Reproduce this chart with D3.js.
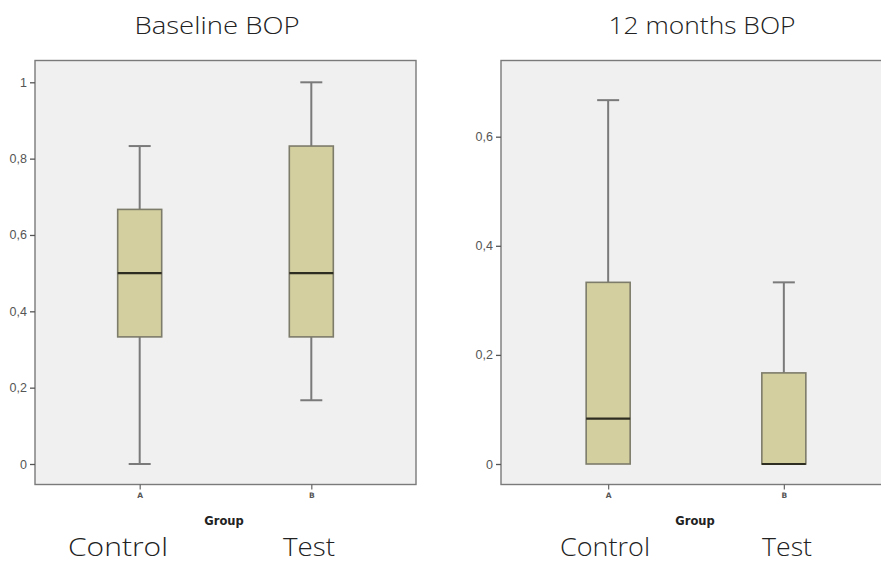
<!DOCTYPE html>
<html><head><meta charset="utf-8">
<script src="https://cdn.jsdelivr.net/npm/d3@7"></script>
<style>
body{margin:0;background:#fff;}
svg{display:block;}
</style></head>
<body><svg id="c" width="881" height="562"></svg>
<script>
const categories = ["A", "B"];
const groupNames = ["Control", "Test"];
const panelTitles = ["Baseline BOP", "12 months BOP"];
// [min, q1, median, q3, max] per category
const baselineStats = [[0, 0.333, 0.5, 0.667, 0.833], [0.167, 0.333, 0.5, 0.833, 1]];
const monthsStats = [[0, 0, 0.083, 0.333, 0.667], [0, 0, 0, 0.167, 0.333]];
const baselineTicks = [0, 0.2, 0.4, 0.6, 0.8, 1];
const monthsTicks = [0, 0.2, 0.4, 0.6];
const xAxisTitle = "Group";

const svg = d3.select("#c");
const fmt = d => d === 0 ? "0" : (d === 1 ? "1" : String(d).replace(".", ","));
const lightFont = "Open Sans, Liberation Sans, sans-serif";

const panels = [
  {title: panelTitles[0], stats: baselineStats, ticks: baselineTicks, topV: 1,
   x0: 35, x1: 416, y0: 60.5, y1: 484.5, zeroY: 464, topY: 82.3, pad: 0.61,
   titleX: 217, titleW: 165, groupX: 224, nameX: [118, 309], nameW: [100, 52]},
  {title: panelTitles[1], stats: monthsStats, ticks: monthsTicks, topV: 0.6,
   x0: 501, x1: 891, y0: 60.5, y1: 484.5, zeroY: 464, topY: 136.7, pad: 0.61,
   titleX: 702, titleW: 187, groupX: 695, nameX: [605, 787], nameW: [90, 50]}
];

panels.forEach((p, pi) => {
  const g = svg.append("g");
  const y = d3.scaleLinear().domain([0, p.topV]).range([p.zeroY, p.topY]);
  const x = d3.scalePoint().domain(categories).range([p.x0, p.x1]).padding(p.pad);

  g.append("rect").attr("x", p.x0).attr("y", p.y0).attr("width", p.x1 - p.x0).attr("height", p.y1 - p.y0)
    .attr("fill", "#f0f0f0").attr("stroke", "#7a7a7a").attr("stroke-width", 1.4);

  const ya = g.append("g").attr("transform", `translate(${p.x0},0)`)
    .call(d3.axisLeft(y).tickValues(p.ticks).tickFormat(fmt).tickSize(5).tickPadding(3));
  ya.select(".domain").remove();
  ya.selectAll(".tick line").attr("stroke", "#555").attr("stroke-width", 1.3);
  ya.selectAll(".tick text").attr("fill", "#555").style("font-family", "Liberation Sans, Arial, sans-serif").style("font-size", "12.5px");

  const xa = g.append("g").attr("transform", `translate(0,${p.y1})`)
    .call(d3.axisBottom(x).tickSize(5).tickPadding(3));
  xa.select(".domain").remove();
  xa.selectAll(".tick line").attr("stroke", "#666").attr("stroke-width", 1.2);
  xa.selectAll(".tick text").attr("fill", "#555").style("font-family", "DejaVu Sans, sans-serif")
    .style("font-size", "7.5px").style("font-weight", "bold");

  g.append("text").attr("x", p.groupX).attr("y", 525)
    .attr("text-anchor", "middle").attr("fill", "#222")
    .style("font-family", "DejaVu Sans, sans-serif").style("font-size", "11.5px").style("font-weight", "bold")
    .text(xAxisTitle);

  g.append("text").attr("x", p.titleX).attr("y", 34).attr("text-anchor", "middle")
    .attr("fill", "#222").style("font-family", lightFont)
    .style("font-size", "23px").style("font-weight", "300")
    .attr("textLength", p.titleW).attr("lengthAdjust", "spacingAndGlyphs").text(p.title);

  groupNames.forEach((n, i) => {
    g.append("text").attr("x", p.nameX[i]).attr("y", 556).attr("text-anchor", "middle")
      .attr("fill", "#222").style("font-family", lightFont)
      .style("font-size", "25px").style("font-weight", "300")
      .attr("textLength", p.nameW[i]).attr("lengthAdjust", "spacingAndGlyphs").text(n);
  });

  const bw = 44;
  p.stats.forEach((s, i) => {
    const cx = x(categories[i]);
    const [mn, q1, md, q3, mx] = s;
    if (mx > q3) {
      g.append("line").attr("x1", cx).attr("x2", cx).attr("y1", y(mx)).attr("y2", y(q3))
        .attr("stroke", "#7a7a7a").attr("stroke-width", 2);
      g.append("line").attr("x1", cx - bw / 4).attr("x2", cx + bw / 4).attr("y1", y(mx)).attr("y2", y(mx))
        .attr("stroke", "#7a7a7a").attr("stroke-width", 2);
    }
    if (mn < q1) {
      g.append("line").attr("x1", cx).attr("x2", cx).attr("y1", y(q1)).attr("y2", y(mn))
        .attr("stroke", "#7a7a7a").attr("stroke-width", 2);
      g.append("line").attr("x1", cx - bw / 4).attr("x2", cx + bw / 4).attr("y1", y(mn)).attr("y2", y(mn))
        .attr("stroke", "#7a7a7a").attr("stroke-width", 2);
    }
    g.append("rect").attr("x", cx - bw / 2).attr("y", y(q3)).attr("width", bw).attr("height", y(q1) - y(q3))
      .attr("fill", "#d3cf9f").attr("stroke", "#7d7b6a").attr("stroke-width", 1.6);
    g.append("line").attr("x1", cx - bw / 2).attr("x2", cx + bw / 2).attr("y1", y(md)).attr("y2", y(md))
      .attr("stroke", "#2e2d22").attr("stroke-width", 2.2);
  });
});
</script></body></html>
